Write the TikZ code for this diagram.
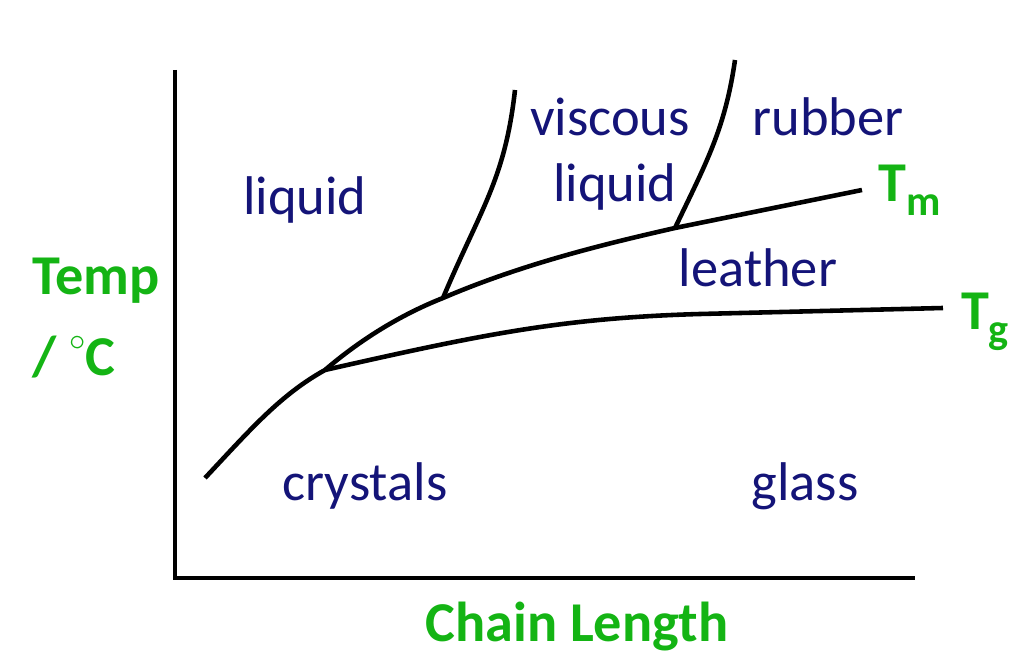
\documentclass[tikz,border=0pt]{standalone}
\usepackage{fontspec}
\setmainfont{Carlito}
\begin{document}
\begin{tikzpicture}[x=0.01cm,y=-0.01cm,
  reg/.style={text=navy,font=\fontsize{15.5}{18}\selectfont},
  ax/.style={text=grn,font=\fontsize{16}{19}\selectfont\bfseries},
  ln/.style={line width=1.3pt}]
\definecolor{navy}{RGB}{20,20,120}
\definecolor{grn}{RGB}{20,180,20}
\useasboundingbox (0,0) rectangle (1026,664);
\coordinate (top) at (175,70);
\coordinate (org) at (175,578);
\coordinate (xe) at (915,578);
\draw[ln] (top) -- (org) -- (xe);
\coordinate (m0) at (205,478);
\coordinate (tp) at (325,370);
\coordinate (vp) at (443,298);
\coordinate (rp) at (675,228);
\coordinate (m1) at (862,190);
\coordinate (g1) at (943,308);
\coordinate (v1) at (515,90);
\coordinate (r1) at (735,60);
\draw[ln] (m0) .. controls (250,430) and (280,395) .. (tp)
  .. controls (360,340) and (400,315) .. (vp)
  .. controls (520,265) and (600,245) .. (rp) -- (m1);
\draw[ln] (tp) .. controls (480,335) and (560,318) .. (700,314) -- (g1);
\draw[ln] (vp) .. controls (480,210) and (505,180) .. (v1);
\draw[ln] (rp) .. controls (705,165) and (725,130) .. (r1);
\node[reg] (l1) at (305,200) {liquid};
\node[reg] (vi) at (610,117) {viscous};
\node[reg] (l2) at (615,187) {liquid};
\node[reg] (ru) at (828,117) {rubber};
\node[reg] (le) at (758,268) {leather};
\node[reg] (cr) at (365,486) {crystals};
\node[reg] (gl) at (805,486) {glass};
\node[ax,align=left,anchor=west] (tc) at (20,318) {Temp\\[4pt]/ \raisebox{0.45em}{\fontsize{9}{9}\selectfont$\circ$}C};
\node[ax] (cl) at (577,627) {Chain Length};
\node[ax] (tm) at (910,190) {T\raisebox{-0.25em}{\fontsize{12}{12}\selectfont m}};
\node[ax] (tg) at (985,322) {T\raisebox{-0.25em}{\fontsize{12}{12}\selectfont g}};
\end{tikzpicture}
\end{document}
